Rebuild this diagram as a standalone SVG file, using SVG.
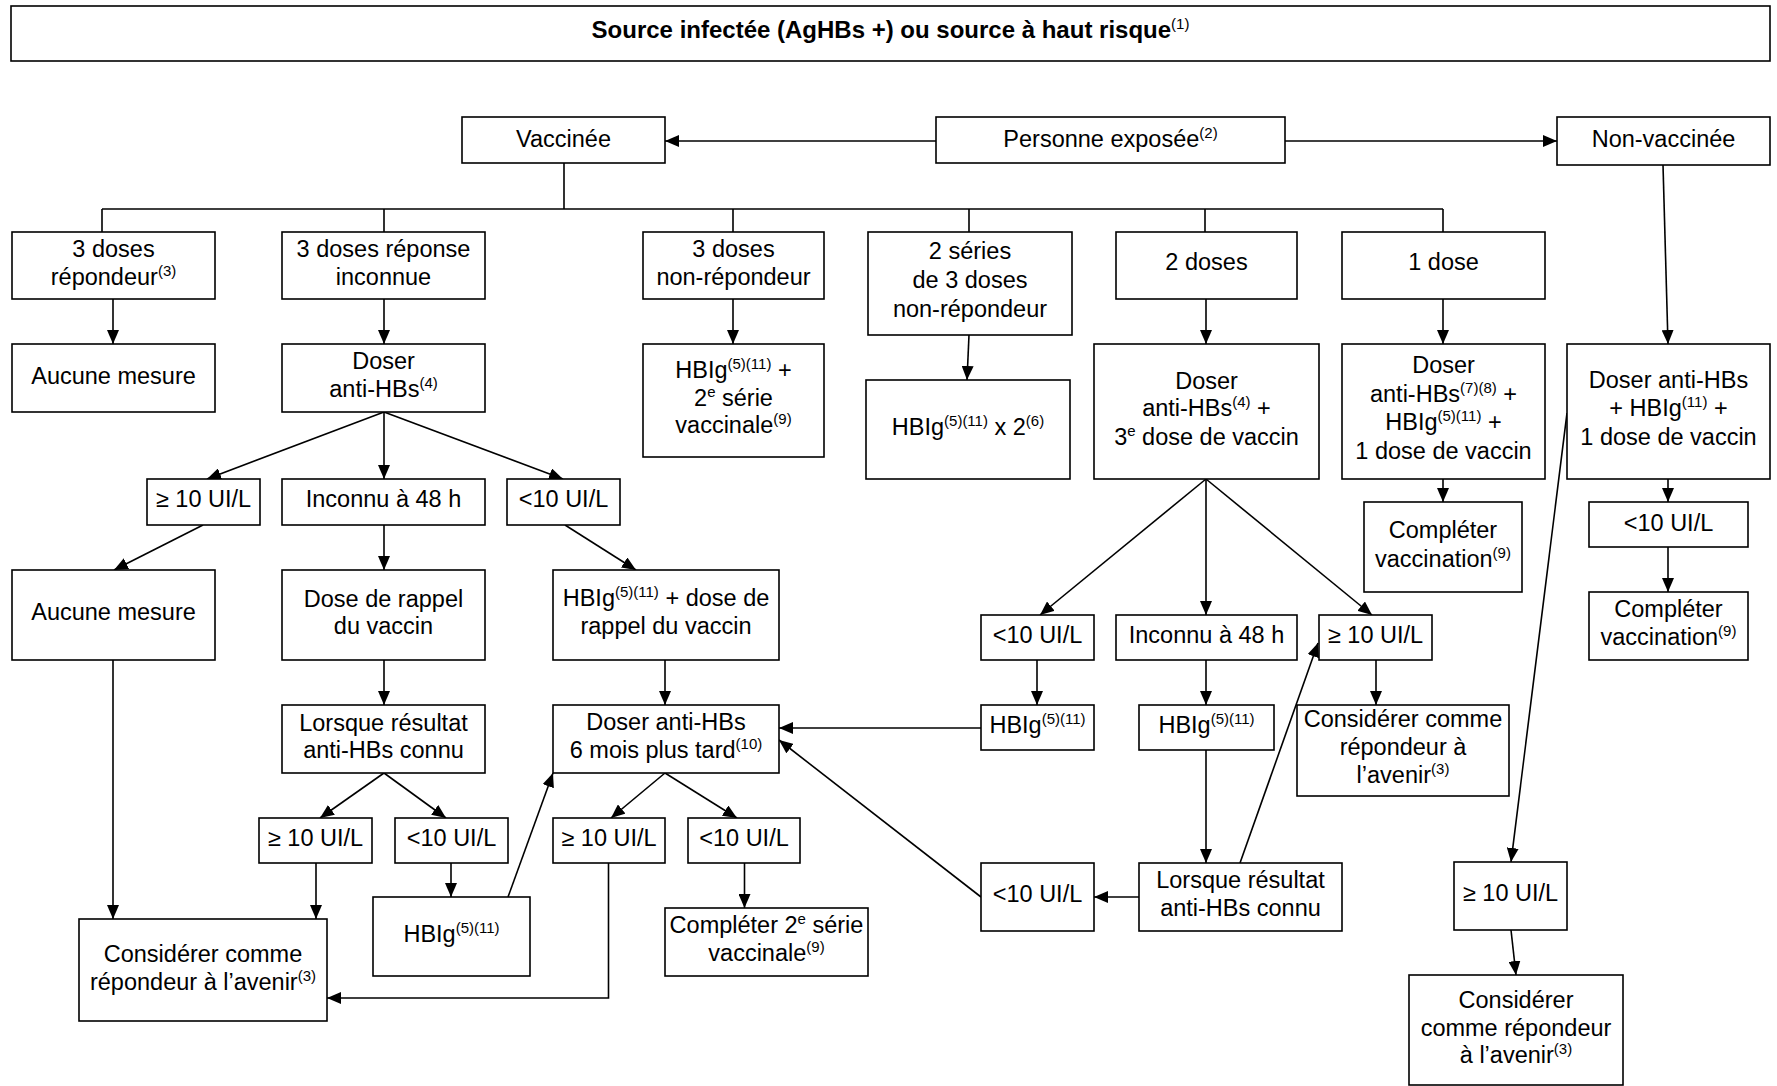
<svg xmlns="http://www.w3.org/2000/svg" width="1777" height="1086" viewBox="0 0 1777 1086">
<defs>
<style>
.box{fill:#fff;stroke:#000;stroke-width:1.6}
.t{font-family:"Liberation Sans",Arial,sans-serif;font-size:23.5px;text-anchor:middle;fill:#000}
.b{font-weight:bold;font-size:24px}
.s{font-size:15px}
.n{font-weight:normal}
.c{stroke:#000;stroke-width:1.6;fill:none}
.a{marker-end:url(#arr)}
</style>
<marker id="arr" markerUnits="userSpaceOnUse" markerWidth="14" markerHeight="12" refX="14" refY="6" orient="auto"><path d="M0,0 L14,6 L0,12 Z" fill="#000"/></marker>
</defs>
<rect width="1777" height="1086" fill="#fff"/>

<g id="connectors">
<line class="c a" x1="936" y1="141" x2="665" y2="141"/>
<line class="c a" x1="1285" y1="141" x2="1557" y2="141"/>
<path class="c" d="M564,163 V209 M102,209 H1443 M102,209 V232 M384,209 V232 M733,209 V232 M969,209 V232 M1205,209 V232 M1443,209 V232"/>
<line class="c a" x1="1663" y1="165" x2="1668" y2="344"/>
<line class="c a" x1="113" y1="299" x2="113" y2="344"/>
<line class="c a" x1="384" y1="299" x2="384" y2="344"/>
<line class="c a" x1="733" y1="299" x2="733" y2="344"/>
<line class="c a" x1="969" y1="335" x2="967" y2="380"/>
<line class="c a" x1="1206" y1="299" x2="1206" y2="344"/>
<line class="c a" x1="1443" y1="299" x2="1443" y2="344"/>
<line class="c a" x1="384" y1="412" x2="207" y2="479"/>
<line class="c a" x1="384" y1="412" x2="384" y2="479"/>
<line class="c a" x1="384" y1="412" x2="563" y2="479"/>
<line class="c a" x1="203" y1="525" x2="114" y2="570"/>
<line class="c a" x1="384" y1="525" x2="384" y2="570"/>
<line class="c a" x1="565" y1="525" x2="636" y2="570"/>
<line class="c a" x1="384" y1="660" x2="384" y2="705"/>
<line class="c a" x1="665" y1="660" x2="665" y2="705"/>
<line class="c a" x1="384" y1="773" x2="320" y2="818"/>
<line class="c a" x1="384" y1="773" x2="446" y2="818"/>
<line class="c a" x1="665" y1="773" x2="611" y2="818"/>
<line class="c a" x1="665" y1="773" x2="737" y2="818"/>
<line class="c a" x1="113" y1="660" x2="113" y2="919"/>
<line class="c a" x1="316" y1="863" x2="316" y2="919"/>
<line class="c a" x1="451" y1="863" x2="451" y2="897"/>
<line class="c a" x1="508" y1="897" x2="553" y2="773"/>
<path class="c a" d="M608.5,863 V998 H327"/>
<line class="c a" x1="744.5" y1="863" x2="744.5" y2="908"/>
<line class="c a" x1="1206" y1="479" x2="1040" y2="615"/>
<line class="c a" x1="1206" y1="479" x2="1206" y2="615"/>
<line class="c a" x1="1206" y1="479" x2="1372" y2="615"/>
<line class="c a" x1="1443" y1="479" x2="1443" y2="502"/>
<line class="c a" x1="1668" y1="479" x2="1668" y2="502"/>
<line class="c a" x1="1668" y1="547" x2="1668" y2="592"/>
<line class="c a" x1="1037" y1="660" x2="1037" y2="705"/>
<line class="c a" x1="981" y1="728" x2="779" y2="728"/>
<line class="c a" x1="1206" y1="660" x2="1206" y2="705"/>
<line class="c a" x1="1376" y1="660" x2="1376" y2="705"/>
<line class="c a" x1="1206" y1="750" x2="1206" y2="863"/>
<line class="c a" x1="1139" y1="897" x2="1094" y2="897"/>
<line class="c a" x1="981" y1="897" x2="779" y2="740"/>
<line class="c a" x1="1240" y1="863" x2="1318" y2="643"/>
<line class="c a" x1="1567" y1="413" x2="1511" y2="862"/>
<line class="c a" x1="1511" y1="930" x2="1516" y2="975"/>
</g>

<g id="title"><rect class="box" x="11" y="6" width="1759" height="55"/><text class="t b" x="890.5" y="38">Source infectée (AgHBs +) ou source à haut risque<tspan class="s n" dy="-9">(1)</tspan></text></g>
<g id="vaccinee"><rect class="box" x="462" y="117" width="203" height="46"/><text class="t" x="563.5" y="147">Vaccinée</text></g>
<g id="personne"><rect class="box" x="936" y="117" width="349" height="46"/><text class="t" x="1110.5" y="147">Personne exposée<tspan class="s" dy="-9">(2)</tspan></text></g>
<g id="nonvaccinee"><rect class="box" x="1557" y="117" width="213" height="48"/><text class="t" x="1663.5" y="147">Non-vaccinée</text></g>

<g id="r1a"><rect class="box" x="12" y="232" width="203" height="67"/><text class="t" x="113.5" y="257">3 doses</text><text class="t" x="113.5" y="285">répondeur<tspan class="s" dy="-9">(3)</tspan></text></g>
<g id="r1b"><rect class="box" x="282" y="232" width="203" height="67"/><text class="t" x="383.5" y="257">3 doses réponse</text><text class="t" x="383.5" y="285">inconnue</text></g>
<g id="r1c"><rect class="box" x="643" y="232" width="181" height="67"/><text class="t" x="733.5" y="257">3 doses</text><text class="t" x="733.5" y="285">non-répondeur</text></g>
<g id="r1d"><rect class="box" x="868" y="232" width="204" height="103"/><text class="t" x="970" y="259">2 séries</text><text class="t" x="970" y="288">de 3 doses</text><text class="t" x="970" y="317">non-répondeur</text></g>
<g id="r1e"><rect class="box" x="1116" y="232" width="181" height="67"/><text class="t" x="1206.5" y="270">2 doses</text></g>
<g id="r1f"><rect class="box" x="1342" y="232" width="203" height="67"/><text class="t" x="1443.5" y="270">1 dose</text></g>

<g id="r2a"><rect class="box" x="12" y="344" width="203" height="68"/><text class="t" x="113.5" y="384">Aucune mesure</text></g>
<g id="r2b"><rect class="box" x="282" y="344" width="203" height="68"/><text class="t" x="383.5" y="369">Doser</text><text class="t" x="383.5" y="397">anti-HBs<tspan class="s" dy="-9">(4)</tspan></text></g>
<g id="r2c"><rect class="box" x="643" y="344" width="181" height="113"/><text class="t" x="733.5" y="378">HBIg<tspan class="s" dy="-9">(5)(11)</tspan><tspan dy="9"> +</tspan></text><text class="t" x="733.5" y="406">2<tspan class="s" dy="-9">e</tspan><tspan dy="9"> série</tspan></text><text class="t" x="733.5" y="433">vaccinale<tspan class="s" dy="-9">(9)</tspan></text></g>
<g id="r2d"><rect class="box" x="866" y="380" width="204" height="99"/><text class="t" x="968" y="435">HBIg<tspan class="s" dy="-9">(5)(11)</tspan><tspan dy="9"> x 2</tspan><tspan class="s" dy="-9">(6)</tspan></text></g>
<g id="r2e"><rect class="box" x="1094" y="344" width="225" height="135"/><text class="t" x="1206.5" y="389">Doser</text><text class="t" x="1206.5" y="416">anti-HBs<tspan class="s" dy="-9">(4)</tspan><tspan dy="9"> +</tspan></text><text class="t" x="1206.5" y="445">3<tspan class="s" dy="-9">e</tspan><tspan dy="9"> dose de vaccin</tspan></text></g>
<g id="r2f"><rect class="box" x="1342" y="344" width="203" height="135"/><text class="t" x="1443.5" y="373">Doser</text><text class="t" x="1443.5" y="402">anti-HBs<tspan class="s" dy="-9">(7)(8)</tspan><tspan dy="9"> +</tspan></text><text class="t" x="1443.5" y="430">HBIg<tspan class="s" dy="-9">(5)(11)</tspan><tspan dy="9"> +</tspan></text><text class="t" x="1443.5" y="459">1 dose de vaccin</text></g>
<g id="r2g"><rect class="box" x="1567" y="344" width="203" height="135"/><text class="t" x="1668.5" y="388">Doser anti-HBs</text><text class="t" x="1668.5" y="416">+ HBIg<tspan class="s" dy="-9">(11)</tspan><tspan dy="9"> +</tspan></text><text class="t" x="1668.5" y="445">1 dose de vaccin</text></g>

<g id="r3a"><rect class="box" x="147" y="479" width="113" height="46"/><text class="t" x="203.5" y="507">≥ 10 UI/L</text></g>
<g id="r3b"><rect class="box" x="282" y="479" width="203" height="46"/><text class="t" x="383.5" y="507">Inconnu à 48 h</text></g>
<g id="r3c"><rect class="box" x="507" y="479" width="113" height="46"/><text class="t" x="563.5" y="507">&lt;10 UI/L</text></g>
<g id="r3d"><rect class="box" x="1364" y="502" width="158" height="90"/><text class="t" x="1443" y="538">Compléter</text><text class="t" x="1443" y="567">vaccination<tspan class="s" dy="-9">(9)</tspan></text></g>
<g id="r3e"><rect class="box" x="1589" y="502" width="159" height="45"/><text class="t" x="1668.5" y="531">&lt;10 UI/L</text></g>

<g id="r4a"><rect class="box" x="12" y="570" width="203" height="90"/><text class="t" x="113.5" y="620">Aucune mesure</text></g>
<g id="r4b"><rect class="box" x="282" y="570" width="203" height="90"/><text class="t" x="383.5" y="607">Dose de rappel</text><text class="t" x="383.5" y="634">du vaccin</text></g>
<g id="r4c"><rect class="box" x="553" y="570" width="226" height="90"/><text class="t" x="666" y="606">HBIg<tspan class="s" dy="-9">(5)(11)</tspan><tspan dy="9"> + dose de</tspan></text><text class="t" x="666" y="634">rappel du vaccin</text></g>
<g id="r4d"><rect class="box" x="981" y="615" width="113" height="45"/><text class="t" x="1037.5" y="643">&lt;10 UI/L</text></g>
<g id="r4e"><rect class="box" x="1116" y="615" width="181" height="45"/><text class="t" x="1206.5" y="643">Inconnu à 48 h</text></g>
<g id="r4f"><rect class="box" x="1319" y="615" width="113" height="45"/><text class="t" x="1375.5" y="643">≥ 10 UI/L</text></g>
<g id="r4g"><rect class="box" x="1589" y="592" width="159" height="68"/><text class="t" x="1668.5" y="617">Compléter</text><text class="t" x="1668.5" y="645">vaccination<tspan class="s" dy="-9">(9)</tspan></text></g>

<g id="r5a"><rect class="box" x="282" y="705" width="203" height="68"/><text class="t" x="383.5" y="731">Lorsque résultat</text><text class="t" x="383.5" y="758">anti-HBs connu</text></g>
<g id="r5b"><rect class="box" x="553" y="705" width="226" height="68"/><text class="t" x="666" y="730">Doser anti-HBs</text><text class="t" x="666" y="758">6 mois plus tard<tspan class="s" dy="-9">(10)</tspan></text></g>
<g id="r5c"><rect class="box" x="981" y="705" width="113" height="45"/><text class="t" x="1037.5" y="733">HBIg<tspan class="s" dy="-9">(5)(11)</tspan></text></g>
<g id="r5d"><rect class="box" x="1139" y="705" width="135" height="45"/><text class="t" x="1206.5" y="733">HBIg<tspan class="s" dy="-9">(5)(11)</tspan></text></g>
<g id="r5e"><rect class="box" x="1297" y="705" width="212" height="91"/><text class="t" x="1403" y="727">Considérer comme</text><text class="t" x="1403" y="755">répondeur à</text><text class="t" x="1403" y="783">l’avenir<tspan class="s" dy="-9">(3)</tspan></text></g>

<g id="r6a"><rect class="box" x="259" y="818" width="113" height="45"/><text class="t" x="315.5" y="846">≥ 10 UI/L</text></g>
<g id="r6b"><rect class="box" x="395" y="818" width="113" height="45"/><text class="t" x="451.5" y="846">&lt;10 UI/L</text></g>
<g id="r6c"><rect class="box" x="553" y="818" width="112" height="45"/><text class="t" x="609" y="846">≥ 10 UI/L</text></g>
<g id="r6d"><rect class="box" x="688" y="818" width="112" height="45"/><text class="t" x="744" y="846">&lt;10 UI/L</text></g>
<g id="r6e"><rect class="box" x="981" y="863" width="113" height="68"/><text class="t" x="1037.5" y="902">&lt;10 UI/L</text></g>
<g id="r6f"><rect class="box" x="1139" y="863" width="203" height="68"/><text class="t" x="1240.5" y="888">Lorsque résultat</text><text class="t" x="1240.5" y="916">anti-HBs connu</text></g>
<g id="r6g"><rect class="box" x="1454" y="862" width="113" height="68"/><text class="t" x="1510.5" y="901">≥ 10 UI/L</text></g>

<g id="r7a"><rect class="box" x="79" y="919" width="248" height="102"/><text class="t" x="203" y="962">Considérer comme</text><text class="t" x="203" y="990">répondeur à l’avenir<tspan class="s" dy="-9">(3)</tspan></text></g>
<g id="r7b"><rect class="box" x="373" y="897" width="157" height="79"/><text class="t" x="451.5" y="942">HBIg<tspan class="s" dy="-9">(5)(11)</tspan></text></g>
<g id="r7c"><rect class="box" x="665" y="908" width="203" height="68"/><text class="t" x="766.5" y="933">Compléter 2<tspan class="s" dy="-9">e</tspan><tspan dy="9"> série</tspan></text><text class="t" x="766.5" y="961">vaccinale<tspan class="s" dy="-9">(9)</tspan></text></g>
<g id="r7d"><rect class="box" x="1409" y="975" width="214" height="110"/><text class="t" x="1516" y="1008">Considérer</text><text class="t" x="1516" y="1036">comme répondeur</text><text class="t" x="1516" y="1063">à l’avenir<tspan class="s" dy="-9">(3)</tspan></text></g>
</svg>
